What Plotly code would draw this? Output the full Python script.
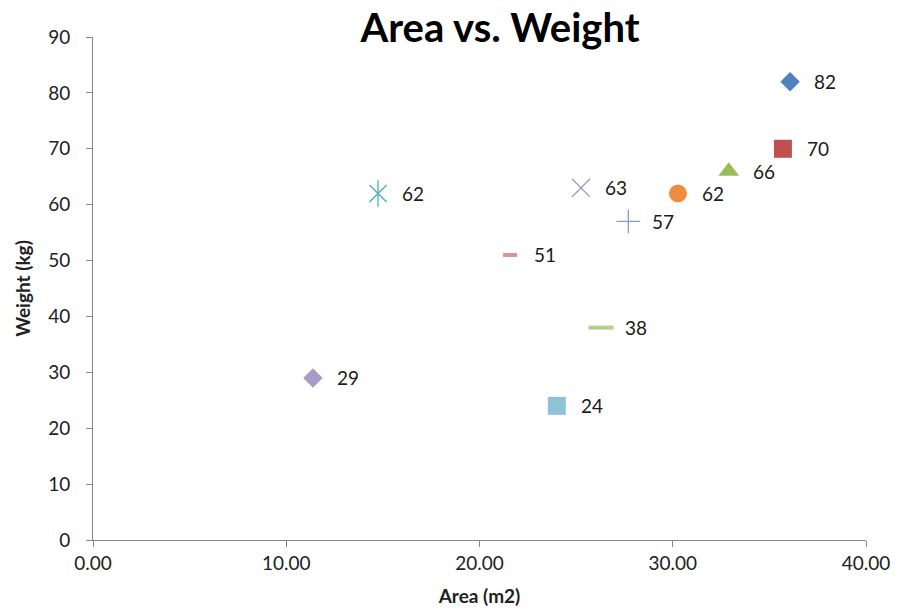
import plotly.graph_objects as go

# Area / weight observations, one series per point
area = [36.07, 35.7, 32.9, 25.25, 14.75, 30.27, 27.7, 21.58, 26.29, 11.38, 24.0]
weight = [82, 70, 66, 63, 62, 62, 57, 51, 38, 29, 24]
# "star6" is drawn as a diagonal cross plus a vertical bar
symbols = ["diamond", "square", "triangle-up", "x-thin-open", "star6",
           "circle", "cross-thin-open", "line-ew-open", "line-ew-open",
           "diamond", "square"]
colors = ["#4F81BD", "#C0504D", "#9BBB59", "#9A8AC0", "#4BACC6", "#F08C3E",
          "#7F9FD6", "#D99694", "#B3CF8A", "#A99BC7", "#8EC3D5"]
sizes = [15, 18, 18, 18, 18, 18, 17, 10, 18, 15, 18]
line_widths = [0, 0, 0, 1.3, 1.3, 0, 1.3, 4, 4, 0, 0]

x_ticks = [0, 10, 20, 30, 40]
y_ticks = list(range(0, 91, 10))

FONT = "Lato, 'Open Sans', sans-serif"

fig = go.Figure()
for a, w, s, c, sz, lw in zip(area, weight, symbols, colors, sizes, line_widths):
    if s == "star6":
        parts = [("x-thin-open", sz * 0.95), ("line-ns-open", sz * 1.05)]
    else:
        parts = [(s, sz)]
    for sym, size in parts:
        fig.add_trace(go.Scatter(
            x=[a], y=[w], mode="markers", showlegend=False,
            marker=dict(symbol=sym, size=size, color=c,
                        line=dict(color=c, width=lw)),
        ))
    fig.add_annotation(x=a, y=w, text=str(w), showarrow=False,
                       xanchor="left", xshift=22,
                       font=dict(family=FONT, size=19, color="#1a1a1a"))

fig.update_layout(
    width=901, height=616,
    margin=dict(l=93, r=35, t=37, b=76),
    paper_bgcolor="white", plot_bgcolor="white",
    font=dict(family=FONT, color="#222"),
    title=dict(text="<b>Area vs. Weight</b>", x=0.555, xanchor="center",
               y=0.955, yanchor="middle",
               font=dict(family=FONT, size=40, color="#000")),
)
fig.update_xaxes(
    range=[0, 40], tickvals=x_ticks,
    ticktext=[f"{v:.2f}" for v in x_ticks],
    showline=True, linecolor="#868686", linewidth=1,
    ticks="outside", ticklen=6, tickcolor="#868686",
    showgrid=False, zeroline=False,
    tickfont=dict(family=FONT, size=19, color="#222"),
    title=dict(text="<b>Area (m2)</b>", standoff=16,
               font=dict(family=FONT, size=19, color="#222")),
)
fig.update_yaxes(
    range=[0, 90], tickvals=y_ticks,
    showline=True, linecolor="#868686", linewidth=1,
    ticks="outside", ticklen=6, tickcolor="#868686",
    showgrid=False, zeroline=False,
    ticklabelstandoff=12,
    tickfont=dict(family=FONT, size=19, color="#222"),
    title=dict(text="<b>Weight (kg)</b>", standoff=12,
               font=dict(family=FONT, size=19, color="#222")),
)

fig.write_html("out.html")
